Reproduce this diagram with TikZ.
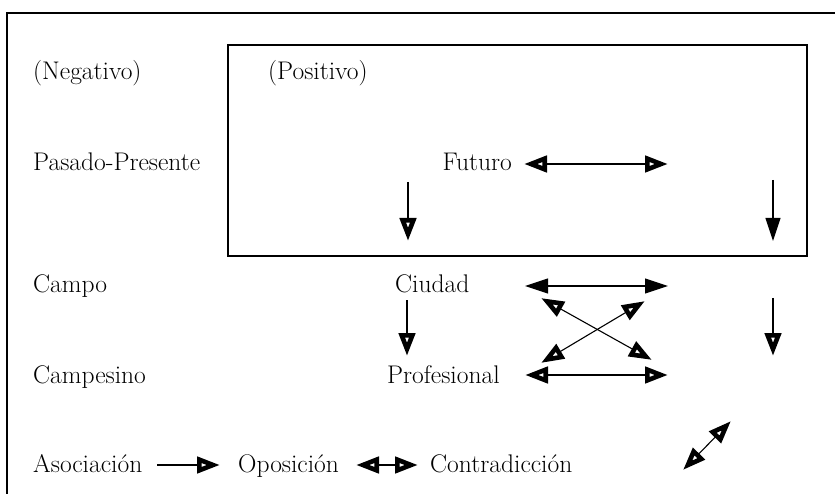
\documentclass[tikz,border=0pt]{standalone}
\usetikzlibrary{arrows.meta}
\tikzset{
  ot/.tip={Triangle[open,length=23pt,width=16pt,line width=4.6pt]},
  ft/.tip={Triangle[length=23pt,width=15pt]},
}
\begin{document}
\begin{tikzpicture}[x=1pt,y=-1pt,
  lbl/.style={anchor=base west, inner sep=0pt, font=\fontsize{25.5}{30}\selectfont},
  frame/.style={line width=1.3pt},
  rel/.style={line width=1.1pt},
]
\useasboundingbox (0,0) rectangle (835,494);
% frames
\draw[frame] (7,494) -- (7,13) -- (835,13);
\draw[frame] (228,45) rectangle (807,256);
% texts
\node[lbl] (neg) at (33,80) {(Negativo)};
\node[lbl] (pos) at (268,80) {(Positivo)};
\node[lbl] (pas) at (33,171) {Pasado-Presente};
\node[lbl,anchor=base east] (fut) at (512,171) {Futuro};
\node[lbl] (cam) at (33,293) {Campo};
\node[lbl] (ciu) at (395,293) {Ciudad};
\node[lbl] (cpe) at (33,383) {Campesino};
\node[lbl] (pro) at (387,383) {Profesional};
\node[lbl] (aso) at (33,472) {Asociación};
\node[lbl] (opo) at (238,472) {Oposición};
\node[lbl] (con) at (430,472) {Contradicción};
% coordinates
\coordinate (f1) at (524,164); \coordinate (f2) at (668,164);
\coordinate (v1a) at (408,182); \coordinate (v1b) at (408,241);
\coordinate (v2a) at (773,180); \coordinate (v2b) at (773,241);
\coordinate (c1) at (525,286); \coordinate (c2) at (668,286);
\coordinate (p1) at (525,375); \coordinate (p2) at (668,375);
\coordinate (v3a) at (407,300); \coordinate (v3b) at (407,356);
\coordinate (v4a) at (773,298); \coordinate (v4b) at (773,356);
\coordinate (xa1) at (541,298); \coordinate (xa2) at (652,360);
\coordinate (xb1) at (541,363); \coordinate (xb2) at (645,301);
\coordinate (l1a) at (157,465); \coordinate (l1b) at (220,465);
\coordinate (l2a) at (356,465); \coordinate (l2b) at (418,465);
\coordinate (l3a) at (683,470); \coordinate (l3b) at (731,421);
% arrows
\draw[rel,ot-ot] (f1) -- (f2);
\draw[rel,-ot] (v1a) -- (v1b);
\draw[rel,-ft] (v2a) -- (v2b);
\draw[rel,ft-ft] (c1) -- (c2);
\draw[rel,ot-ot] (p1) -- (p2);
\draw[rel,-ot] (v3a) -- (v3b);
\draw[rel,-ot] (v4a) -- (v4b);
\draw[rel,ot-ot] (xa1) -- (xa2);
\draw[rel,ot-ot] (xb1) -- (xb2);
\draw[rel,-ot] (l1a) -- (l1b);
\draw[rel,ot-ot] (l2a) -- (l2b);
\draw[rel,ot-ot] (l3a) -- (l3b);
\end{tikzpicture}
\end{document}
